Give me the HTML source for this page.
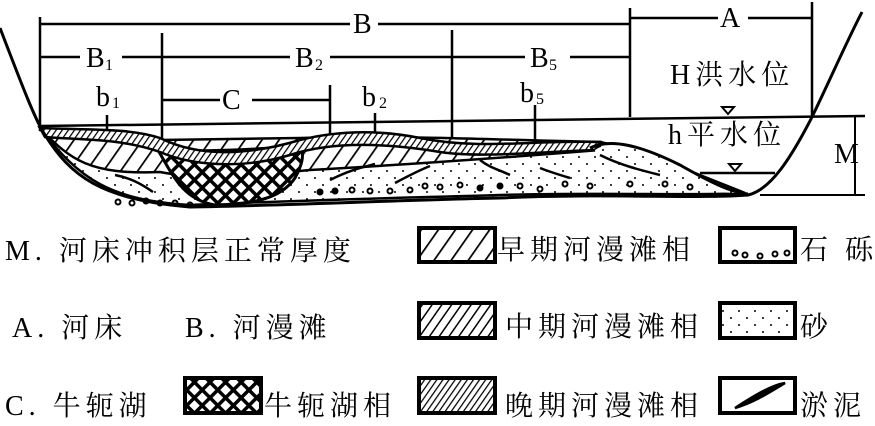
<!DOCTYPE html>
<html><head><meta charset="utf-8"><style>
html,body{margin:0;padding:0;background:#fff;width:875px;height:426px;overflow:hidden}
svg{display:block}
text{font-family:"Liberation Serif","Noto Serif CJK SC",serif;fill:#000}
.cn{font-family:"Liberation Serif","Noto Serif CJK SC",serif;letter-spacing:5px}
</style></head><body>
<svg width="875" height="426" viewBox="0 0 875 426" xmlns="http://www.w3.org/2000/svg">
<defs>
<pattern id="early" width="14" height="14" patternUnits="userSpaceOnUse" patternTransform="rotate(35)"><rect width="14" height="14" fill="#fff"/><line x1="0" y1="0" x2="0" y2="14" stroke="#000" stroke-width="3.5"/></pattern>
<pattern id="mid" width="8" height="8" patternUnits="userSpaceOnUse" patternTransform="rotate(35)"><rect width="8" height="8" fill="#fff"/><line x1="0" y1="0" x2="0" y2="8" stroke="#000" stroke-width="3"/></pattern>
<pattern id="late" width="5" height="5" patternUnits="userSpaceOnUse" patternTransform="rotate(35)"><rect width="5" height="5" fill="#fff"/><line x1="0" y1="0" x2="0" y2="5" stroke="#000" stroke-width="2.5"/></pattern>
<pattern id="cross" width="11" height="11" patternUnits="userSpaceOnUse" patternTransform="rotate(45)"><rect width="11" height="11" fill="#000"/><rect x="2.5" y="2.5" width="7.5" height="7.5" fill="#fff"/></pattern>
<pattern id="sand" width="16" height="14" patternUnits="userSpaceOnUse"><rect width="16" height="14" fill="#fff"/><circle cx="3" cy="3" r="1" fill="#000"/><circle cx="11" cy="10" r="1" fill="#000"/></pattern>
</defs>
<g stroke="#000" fill="none" stroke-width="2.5">
<line x1="40" y1="24" x2="350" y2="24"/><line x1="378" y1="24" x2="630" y2="24"/>
<line x1="630" y1="18" x2="718" y2="18"/><line x1="748" y1="18" x2="812" y2="18"/>
<line x1="40" y1="57" x2="80" y2="57"/><line x1="122" y1="57" x2="290" y2="57"/><line x1="330" y1="57" x2="525" y2="57"/><line x1="570" y1="57" x2="630" y2="57"/>
<line x1="162" y1="100" x2="220" y2="100"/><line x1="252" y1="100" x2="330" y2="100"/>
<line x1="40" y1="17" x2="40" y2="128"/><line x1="162" y1="33" x2="162" y2="138"/>
<line x1="630" y1="8" x2="630" y2="117"/><line x1="812" y1="2" x2="812" y2="117"/>
<line x1="452" y1="30" x2="452" y2="140"/><line x1="330" y1="85" x2="330" y2="135"/>
<line x1="107" y1="115" x2="107" y2="140"/><line x1="375" y1="113" x2="375" y2="135"/><line x1="535" y1="105" x2="535" y2="143"/>
<line x1="40" y1="126" x2="865" y2="116"/>
<line x1="700" y1="173" x2="775" y2="173"/>
<line x1="855" y1="115" x2="855" y2="195" stroke-width="2"/><line x1="760" y1="195" x2="865" y2="195" stroke-width="2"/>
</g>
<polygon points="722,107 734,107 728,114" fill="none" stroke="#000" stroke-width="2"/>
<polygon points="729,164 741,164 735,171" fill="none" stroke="#000" stroke-width="2"/>
<path d="M40,128 C80,180 110,200 190,205 C300,200 400,198 500,195 C600,192 700,196 745,193 C700,175 640,150 600,142 C540,148 480,148 440,145 C380,140 320,140 300,140 L160,150 Z" fill="url(#sand)" stroke="#000" stroke-width="2.5"/>
<path d="M40,128 C70,160 90,175 160,172 C200,180 260,175 310,170 C400,165 500,158 600,150 L600,142 C500,140 400,135 300,138 L160,140 C120,138 80,135 40,130 Z" fill="url(#early)" stroke="#000" stroke-width="2.5"/>
<path d="M158,150 C175,180 185,200 215,205 C250,204 280,200 295,178 C302,165 305,155 300,145 C260,150 200,152 158,150 Z" fill="url(#cross)" stroke="#000" stroke-width="3"/>
<path d="M40,128 C90,130 130,128 160,138 C200,158 250,155 300,140 C340,130 380,130 420,138 C480,150 530,140 600,142 L595,150 C540,152 480,158 440,152 C380,142 330,142 290,155 C240,170 190,165 160,152 C120,138 80,140 45,137 Z" fill="url(#late)" stroke="#000" stroke-width="2.5"/>
<path d="M595,150 C610,140 640,142 680,165 C710,182 730,192 745,193 L600,190 Z" fill="url(#sand)" stroke="none"/>
<path d="M590,148 C610,138 640,145 680,165 C710,182 730,192 748,194" fill="none" stroke="#000" stroke-width="3"/>
<path d="M0,28 C20,80 35,120 45,135 C70,175 100,200 190,207 C300,205 400,200 500,198 C600,193 700,199 748,195 C770,190 790,160 812,117 C830,80 845,45 862,12" fill="none" stroke="#000" stroke-width="3"/>
<g stroke="#000" stroke-width="2.5" fill="none">
<path d="M115,175 C130,178 140,183 153,192"/><path d="M330,180 C350,170 360,168 375,164"/><path d="M395,183 C410,175 420,170 430,166"/><path d="M480,160 C490,168 500,170 510,175"/><path d="M540,168 C550,172 560,175 570,178"/><path d="M600,155 C620,165 640,170 660,175"/>
</g>
<g fill="none" stroke="#000" stroke-width="2">
<circle cx="118" cy="202" r="2.5"/><circle cx="132" cy="203" r="2.5"/><circle cx="146" cy="201" r="2.5"/><circle cx="160" cy="203" r="2.5"/><circle cx="175" cy="203" r="2.5"/><circle cx="190" cy="205" r="2.5"/>
<circle cx="320" cy="192" r="2.5" fill="#000"/><circle cx="335" cy="191" r="2.5" fill="#000"/><circle cx="352" cy="190" r="2.5"/><circle cx="370" cy="191" r="2.5"/><circle cx="390" cy="191" r="2.5"/><circle cx="410" cy="190" r="2.5"/><circle cx="425" cy="186" r="2.5"/><circle cx="440" cy="187" r="2.5"/><circle cx="460" cy="185" r="2.5"/><circle cx="480" cy="188" r="2.5" fill="#000"/><circle cx="500" cy="186" r="2.5" fill="#000"/><circle cx="520" cy="186" r="2.5"/><circle cx="540" cy="189" r="2.5"/><circle cx="565" cy="184" r="2.5"/><circle cx="590" cy="186" r="2.5"/><circle cx="630" cy="184" r="2.5"/><circle cx="665" cy="184" r="2.5"/><circle cx="690" cy="187" r="2.5"/>
</g>
<g font-size="28">
<text x="353" y="33">B</text><text x="720" y="27">A</text>
<text x="86" y="67">B</text><text x="295" y="67">B</text><text x="530" y="67">B</text>
<text x="222" y="109">C</text>
<text x="96" y="106">b</text><text x="362" y="106">b</text><text x="520" y="102">b</text>
<text x="670" y="84" class="cn">H洪水位</text><text x="668" y="144" class="cn">h平水位</text>
<text x="834" y="163">M</text>
</g>
<g font-size="16"><text x="105" y="70">1</text><text x="315" y="70">2</text><text x="549" y="70">5</text><text x="112" y="108">1</text><text x="379" y="108">2</text><text x="536" y="104">5</text></g>
<g font-size="28">
<text x="5" y="260" class="cn">M. 河床冲积层正常厚度</text>
<text x="12" y="337" class="cn">A. 河床</text><text x="185" y="337" class="cn">B. 河漫滩</text>
<text x="5" y="415" class="cn">C. 牛轭湖</text>
<text x="264" y="415" class="cn">牛轭湖相</text>
<text x="497" y="259" class="cn">早期河漫滩相</text><text x="505" y="336" class="cn">中期河漫滩相</text><text x="505" y="415" class="cn">晚期河漫滩相</text>
<text x="800" y="259" class="cn">石 砾</text><text x="800" y="336" class="cn">砂</text><text x="800" y="415" class="cn">淤泥</text>
</g>
<g stroke="#000" stroke-width="4">
<rect x="419" y="228" width="76" height="34" fill="url(#early)"/>
<rect x="419" y="303" width="76" height="35" fill="url(#mid)"/>
<rect x="419" y="378" width="76" height="35" fill="url(#late)"/>
<rect x="185" y="378" width="76" height="35" fill="url(#cross)"/>
<rect x="720" y="228" width="75" height="34" fill="#fff"/>
<rect x="720" y="303" width="75" height="35" fill="url(#sand)"/>
<rect x="720" y="378" width="75" height="35" fill="#fff"/>
</g>
<g fill="none" stroke="#000" stroke-width="2"><circle cx="735" cy="253" r="2.5"/><circle cx="745" cy="255" r="2.5"/><circle cx="760" cy="256" r="2.5"/><circle cx="775" cy="254" r="2.5"/><circle cx="787" cy="253" r="2.5"/></g>
<path d="M735,408 C755,395 772,385 785,383 C770,392 755,402 735,408 Z" fill="#000" stroke="#000" stroke-width="2.5"/>
</svg>
</body></html>
